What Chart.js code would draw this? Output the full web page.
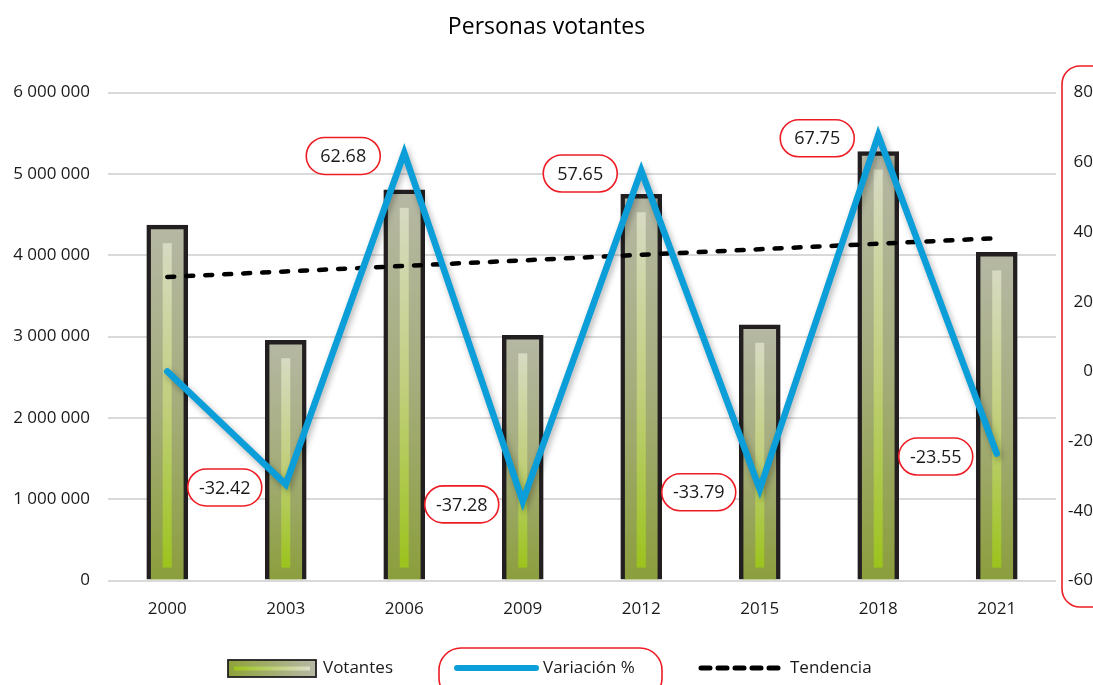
<!DOCTYPE html>
<html lang="es">
<head>
<meta charset="utf-8">
<title>Personas votantes</title>
<script src="https://cdn.jsdelivr.net/npm/chart.js@4.4.1/dist/chart.umd.min.js"></script>
<style>
  html, body { margin: 0; padding: 0; background: #fff; }
  #wrap { position: relative; width: 1093px; height: 685px; }
</style>
</head>
<body>
<div id="wrap"><canvas id="chart"></canvas></div>
<script>
// datos
const years = ['2000', '2003', '2006', '2009', '2012', '2015', '2018', '2021'];
const votantes = [4370000, 2955000, 4805000, 3015000, 4750000, 3145000, 5275000, 4035000];
const variacion = [0, -32.42, 62.68, -37.28, 57.65, -33.79, 67.75, -23.55];
const tendencia = [3733000, 3801000, 3869000, 3937000, 4006000, 4074000, 4142000, 4210000];

const TEXT = '#1a1a1a';
const RED = '#ed1c24';
const BLUE = '#0b9ed8';
const FONT = '"Open Sans", "Noto Sans", sans-serif';

Chart.defaults.font.family = FONT;
Chart.defaults.color = TEXT;

const fmt = v => String(v).replace(/\B(?=(\d{3})+(?!\d))/g, ' ');

function pill(ctx, x, y, w, h, r) {
  ctx.beginPath();
  ctx.moveTo(x + r, y);
  ctx.lineTo(x + w - r, y);
  ctx.arcTo(x + w, y, x + w, y + r, r);
  ctx.lineTo(x + w, y + h - r);
  ctx.arcTo(x + w, y + h, x + w - r, y + h, r);
  ctx.lineTo(x + r, y + h);
  ctx.arcTo(x, y + h, x, y + h - r, r);
  ctx.lineTo(x, y + r);
  ctx.arcTo(x, y, x + r, y, r);
  ctx.closePath();
}

function barFill(c) {
  const chart = c.chart;
  if (!chart.chartArea || c.type !== 'data') return '#a4ac7b';
  const top = chart.scales.y.getPixelForValue(votantes[c.dataIndex]);
  const bottom = chart.scales.y.getPixelForValue(0);
  const g = chart.ctx.createLinearGradient(0, top, 0, bottom);
  g.addColorStop(0, '#b6b8a4');
  g.addColorStop(0.5, '#a5ad7c');
  g.addColorStop(1, '#8b9e3c');
  return g;
}

// franja clara dentro de cada barra
const barStripes = {
  id: 'barStripes',
  afterDatasetDraw(chart, args) {
    if (args.index !== 0) return;
    const ctx = chart.ctx;
    args.meta.data.forEach(bar => {
      const top = bar.y + 18, bottom = bar.base - 12;
      const g = ctx.createLinearGradient(0, top, 0, bottom);
      g.addColorStop(0, '#d7dac2');
      g.addColorStop(0.5, '#c1cf7d');
      g.addColorStop(1, '#9cc31d');
      ctx.save();
      ctx.fillStyle = g;
      ctx.fillRect(bar.x - 4.5, top, 9, bottom - top);
      ctx.restore();
    });
  }
};

const lineShadow = {
  id: 'lineShadow',
  beforeDatasetDraw(chart, args) {
    if (args.index !== 1) return;
    const ctx = chart.ctx;
    ctx.save();
    ctx.shadowColor = 'rgba(0,0,0,0.3)';
    ctx.shadowBlur = 6;
    ctx.shadowOffsetX = 2;
    ctx.shadowOffsetY = 3;
  },
  afterDatasetDraw(chart, args) {
    if (args.index === 1) chart.ctx.restore();
  }
};

// etiquetas con borde rojo
const valueBoxes = {
  id: 'valueBoxes',
  afterDatasetsDraw(chart) {
    const ctx = chart.ctx;
    const meta = chart.getDatasetMeta(1);
    ctx.save();
    ctx.font = '18px ' + FONT;
    ctx.textAlign = 'center';
    ctx.textBaseline = 'middle';
    meta.data.forEach((pt, i) => {
      if (variacion[i] === 0) return;
      const cx = pt.x - 61, cy = pt.y + 3;
      pill(ctx, cx - 37, cy - 18.5, 74, 37, 18.5);
      ctx.fillStyle = '#fff';
      ctx.fill();
      ctx.lineWidth = 1.6;
      ctx.strokeStyle = RED;
      ctx.stroke();
      ctx.fillStyle = TEXT;
      ctx.fillText(variacion[i].toFixed(2), cx, cy + 1);
    });
    ctx.restore();
  }
};

// marco del eje derecho y leyenda
const decor = {
  id: 'decor',
  afterDraw(chart) {
    const ctx = chart.ctx;
    const ds = chart.data.datasets;
    ctx.save();
    ctx.lineWidth = 1.6;
    ctx.strokeStyle = RED;
    pill(ctx, 1062, 66, 70, 541, 18);
    ctx.stroke();
    pill(ctx, 439, 648, 223, 52, 22);
    ctx.stroke();

    const ly = 668;
    // Votantes
    let g = ctx.createLinearGradient(228, 0, 316, 0);
    g.addColorStop(0, '#8ea23a');
    g.addColorStop(1, '#b7b9a6');
    ctx.fillStyle = g;
    ctx.fillRect(228, 660, 88, 17);
    g = ctx.createLinearGradient(234, 0, 310, 0);
    g.addColorStop(0, '#9dc31d');
    g.addColorStop(1, '#dcdec8');
    ctx.fillStyle = g;
    ctx.fillRect(234, 666.5, 76, 4);
    ctx.lineWidth = 1.8;
    ctx.strokeStyle = '#231f20';
    ctx.strokeRect(228, 660, 88, 17);
    // Variación
    ctx.lineCap = 'round';
    ctx.lineWidth = 6;
    ctx.strokeStyle = BLUE;
    ctx.beginPath(); ctx.moveTo(457, ly); ctx.lineTo(536, ly); ctx.stroke();
    // Tendencia
    ctx.lineWidth = 5;
    ctx.strokeStyle = '#000';
    ctx.setLineDash([9, 8]);
    ctx.beginPath(); ctx.moveTo(701, ly); ctx.lineTo(781, ly); ctx.stroke();
    ctx.setLineDash([]);

    ctx.font = '17px ' + FONT;
    ctx.fillStyle = TEXT;
    ctx.textBaseline = 'middle';
    ctx.fillText(ds[0].label, 323, ly);
    ctx.fillText(ds[1].label, 543, ly);
    ctx.fillText(ds[2].label, 790, ly);
    ctx.restore();
  }
};

new Chart(document.getElementById('chart'), {
  data: {
    labels: years,
    datasets: [
      {
        type: 'bar',
        label: 'Votantes',
        data: votantes,
        yAxisID: 'y',
        backgroundColor: barFill,
        borderColor: '#231f20',
        borderWidth: 4.5,
        barThickness: 41,
        order: 3
      },
      {
        type: 'line',
        label: 'Variación %',
        data: variacion,
        yAxisID: 'y1',
        borderColor: BLUE,
        borderWidth: 6.5,
        borderCapStyle: 'round',
        borderJoinStyle: 'miter',
        pointRadius: 0,
        tension: 0,
        order: 1
      },
      {
        type: 'line',
        label: 'Tendencia',
        data: tendencia,
        yAxisID: 'y',
        borderColor: '#000',
        borderWidth: 4.5,
        borderDash: [7, 12],
        borderCapStyle: 'round',
        pointRadius: 0,
        tension: 0,
        order: 2
      }
    ]
  },
  options: {
    responsive: true,
    maintainAspectRatio: false,
    animation: false,
    layout: { padding: { bottom: 48 } },
    plugins: {
      legend: { display: false },
      tooltip: { enabled: false },
      title: {
        display: true,
        text: 'Personas votantes',
        color: '#000',
        font: { size: 23, weight: 'normal' },
        padding: { top: 14, bottom: 51 }
      }
    },
    scales: {
      x: {
        grid: { display: false, drawTicks: false },
        border: { display: false },
        ticks: { padding: 18, font: { size: 17 } }
      },
      y: {
        position: 'left',
        min: 0,
        max: 6000000,
        grid: { color: '#d9d9d9', lineWidth: 2, drawTicks: false },
        border: { display: false },
        ticks: { stepSize: 1000000, padding: 18, font: { size: 17 }, callback: v => fmt(v) },
        afterFit: s => { s.width = 108; }
      },
      y1: {
        position: 'right',
        min: -60,
        max: 80,
        grid: { display: false, drawTicks: false },
        border: { display: false },
        ticks: { stepSize: 20, padding: 9, crossAlign: 'far', font: { size: 17 } },
        afterFit: s => { s.width = 37; }
      }
    }
  },
  plugins: [barStripes, lineShadow, valueBoxes, decor]
});
</script>
</body>
</html>
